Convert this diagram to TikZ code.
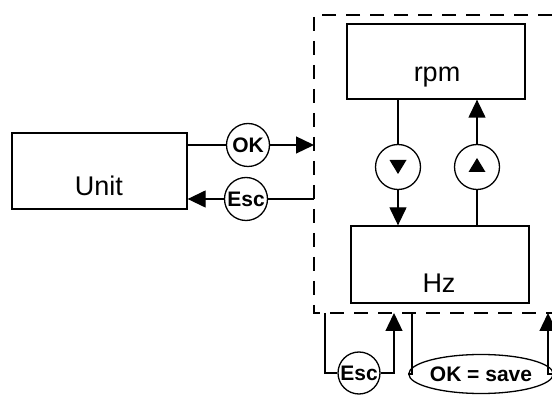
\documentclass[tikz,border=0pt]{standalone}
\usepackage{fontspec}
\setmainfont{Liberation Sans}
\usetikzlibrary{arrows.meta,shapes.geometric}
\begin{document}
\begin{tikzpicture}[x=1pt,y=-1pt,
  line width=1.3pt,
  box/.style={draw,rectangle,inner sep=0pt},
  lab/.style={font=\fontsize{27}{32}\selectfont,inner sep=0pt},
  key/.style={draw,circle,minimum size=43pt,inner sep=0pt,font=\bfseries\fontsize{21}{25}\selectfont},
  keyell/.style={draw,ellipse,minimum width=118pt,minimum height=39pt,inner sep=0pt,font=\bfseries\fontsize{21}{25}\selectfont},
  arr/.style={-{Triangle[length=18pt,width=17pt]}},
  region/.style={dashed,dash pattern=on 14pt off 10pt},
  tri/.style={fill=black,draw=none}]
\useasboundingbox (0,0) rectangle (552,395);
% boxes
\node[box,minimum width=175pt,minimum height=76pt] (unit) at (99.5,171) {};
\node[lab] at (99,186) {Unit};
\node[box,minimum width=178pt,minimum height=75pt] (rpm) at (436,61.5) {};
\node[lab] at (437,77) {rpm};
\node[box,minimum width=178pt,minimum height=77pt] (hz) at (440,264.5) {};
\node[lab] at (439,283) {Hz};
% dashed region
\coordinate (tr) at (552,15);
\coordinate (tl) at (314,15);
\coordinate (bl) at (314,313);
\coordinate (br) at (552,313);
\draw[region] (tr) -- (tl) -- (bl) -- (br);
% key circles
\node[key] (ok) at (248,145) {OK};
\node[key] (esc) at (246,199) {Esc};
\node[key,minimum size=45pt] (dn) at (398,167) {};
\node[key,minimum size=45pt] (up) at (477,167) {};
\node[key,minimum size=42pt] (escb) at (359,373) {Esc};
\node[keyell] (oks) at (481,374) {OK = save};
% triangles inside circles
\fill[tri] ([shift={(-8.5,-7)}]dn.center) -- ([shift={(8.5,-7)}]dn.center) -- ([shift={(0,7)}]dn.center) -- cycle;
\fill[tri] ([shift={(-8.5,5)}]up.center) -- ([shift={(8.5,5)}]up.center) -- ([shift={(0,-9)}]up.center) -- cycle;
% connection points on the region border
\coordinate (okin) at (314,145);
\coordinate (escout) at (314,199);
\coordinate (b1) at (325,313);
\coordinate (b2) at (394,313);
\coordinate (b3) at (412,313);
\coordinate (b4) at (548,313);
% connectors
\draw (ok.west -| unit.east) -- (ok.west);
\draw[arr] (ok.east) -- (okin);
\draw (escout) -- (esc.east);
\draw[arr] (esc.west) -- (esc.west -| unit.east);
\draw (rpm.south -| dn) -- (dn.north);
\draw[arr] (dn.south) -- (dn |- hz.north);
\draw (hz.north -| up) -- (up.south);
\draw[arr] (up.north) -- (up |- rpm.south);
\draw (b1) |- (escb.west);
\draw[arr] (escb.east) -| (b2);
\draw (b3) |- (oks.west);
\draw[arr] (oks.east) -| (b4);
\end{tikzpicture}
\end{document}
